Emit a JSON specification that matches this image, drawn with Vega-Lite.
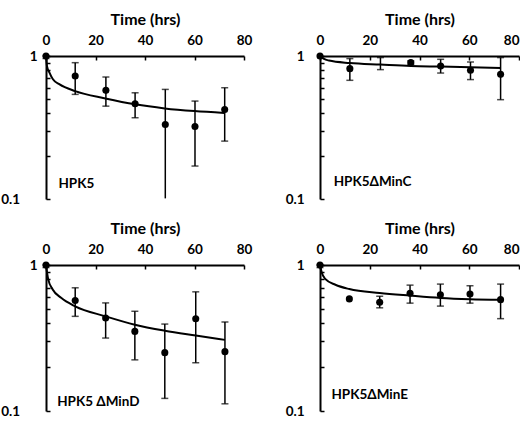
{
  "$schema": "https://vega.github.io/schema/vega-lite/v6.json",
  "background": "white",
  "padding": {"top": 11, "left": 0, "right": 0, "bottom": 0},
  "datasets": {
    "d": [
      {"panel": "A", "kind": "pt", "t": 0, "y": 1, "lo": 0.96, "hi": 1},
      {"panel": "A", "kind": "pt", "t": 11.8, "y": 0.724, "lo": 0.539, "hi": 0.898},
      {"panel": "A", "kind": "pt", "t": 24.2, "y": 0.575, "lo": 0.446, "hi": 0.713},
      {"panel": "A", "kind": "pt", "t": 36, "y": 0.463, "lo": 0.37, "hi": 0.553},
      {"panel": "A", "kind": "pt", "t": 48.2, "y": 0.332, "lo": 0.101, "hi": 0.584},
      {"panel": "A", "kind": "pt", "t": 60.2, "y": 0.321, "lo": 0.17, "hi": 0.484},
      {"panel": "A", "kind": "pt", "t": 72.2, "y": 0.423, "lo": 0.254, "hi": 0.6},
      {"panel": "A", "kind": "fit", "t": 0, "y": 1},
      {"panel": "A", "kind": "fit", "t": 0.4, "y": 0.85},
      {"panel": "A", "kind": "fit", "t": 1.4, "y": 0.765},
      {"panel": "A", "kind": "fit", "t": 2.8, "y": 0.687},
      {"panel": "A", "kind": "fit", "t": 5.5, "y": 0.633},
      {"panel": "A", "kind": "fit", "t": 11.8, "y": 0.568},
      {"panel": "A", "kind": "fit", "t": 24, "y": 0.505},
      {"panel": "A", "kind": "fit", "t": 36, "y": 0.459},
      {"panel": "A", "kind": "fit", "t": 48, "y": 0.43},
      {"panel": "A", "kind": "fit", "t": 60, "y": 0.412},
      {"panel": "A", "kind": "fit", "t": 72, "y": 0.4},

      {"panel": "B", "kind": "pt", "t": 0, "y": 1, "lo": null, "hi": null},
      {"panel": "B", "kind": "pt", "t": 12, "y": 0.816, "lo": 0.676, "hi": 0.959},
      {"panel": "B", "kind": "pt", "t": 24.3, "y": null, "lo": 0.803, "hi": 0.975},
      {"panel": "B", "kind": "pt", "t": 36.5, "y": 0.899, "lo": 0.875, "hi": 0.925},
      {"panel": "B", "kind": "pt", "t": 48.5, "y": 0.851, "lo": 0.76, "hi": 0.948},
      {"panel": "B", "kind": "pt", "t": 60.5, "y": 0.794, "lo": 0.684, "hi": 0.908},
      {"panel": "B", "kind": "pt", "t": 72.6, "y": 0.744, "lo": 0.495, "hi": 0.975},
      {"panel": "B", "kind": "fit", "t": 0, "y": 1},
      {"panel": "B", "kind": "fit", "t": 1.6, "y": 0.953},
      {"panel": "B", "kind": "fit", "t": 3.6, "y": 0.929},
      {"panel": "B", "kind": "fit", "t": 12, "y": 0.893},
      {"panel": "B", "kind": "fit", "t": 24.3, "y": 0.871},
      {"panel": "B", "kind": "fit", "t": 36.5, "y": 0.851},
      {"panel": "B", "kind": "fit", "t": 48.5, "y": 0.843},
      {"panel": "B", "kind": "fit", "t": 60.5, "y": 0.834},
      {"panel": "B", "kind": "fit", "t": 72.6, "y": 0.824},

      {"panel": "C", "kind": "pt", "t": 0, "y": 1, "lo": 0.96, "hi": 1},
      {"panel": "C", "kind": "pt", "t": 11.8, "y": 0.571, "lo": 0.445, "hi": 0.698},
      {"panel": "C", "kind": "pt", "t": 24.1, "y": 0.434, "lo": 0.316, "hi": 0.55},
      {"panel": "C", "kind": "pt", "t": 35.9, "y": 0.351, "lo": 0.224, "hi": 0.482},
      {"panel": "C", "kind": "pt", "t": 48, "y": 0.251, "lo": 0.122, "hi": 0.394},
      {"panel": "C", "kind": "pt", "t": 60.5, "y": 0.429, "lo": 0.214, "hi": 0.655},
      {"panel": "C", "kind": "pt", "t": 72.3, "y": 0.255, "lo": 0.112, "hi": 0.407},
      {"panel": "C", "kind": "fit", "t": 0, "y": 1},
      {"panel": "C", "kind": "fit", "t": 0.9, "y": 0.797},
      {"panel": "C", "kind": "fit", "t": 2.7, "y": 0.68},
      {"panel": "C", "kind": "fit", "t": 6.1, "y": 0.596},
      {"panel": "C", "kind": "fit", "t": 11.8, "y": 0.521},
      {"panel": "C", "kind": "fit", "t": 24.1, "y": 0.445},
      {"panel": "C", "kind": "fit", "t": 35.9, "y": 0.39},
      {"panel": "C", "kind": "fit", "t": 48, "y": 0.355},
      {"panel": "C", "kind": "fit", "t": 60.5, "y": 0.329},
      {"panel": "C", "kind": "fit", "t": 72.3, "y": 0.307},

      {"panel": "D", "kind": "pt", "t": 0, "y": 1, "lo": 0.96, "hi": 1},
      {"panel": "D", "kind": "pt", "t": 11.8, "y": 0.586, "lo": null, "hi": null},
      {"panel": "D", "kind": "pt", "t": 24, "y": 0.556, "lo": 0.509, "hi": 0.611},
      {"panel": "D", "kind": "pt", "t": 36.2, "y": 0.64, "lo": 0.548, "hi": 0.728},
      {"panel": "D", "kind": "pt", "t": 48.4, "y": 0.626, "lo": 0.523, "hi": 0.74},
      {"panel": "D", "kind": "pt", "t": 60.3, "y": 0.633, "lo": 0.548, "hi": 0.721},
      {"panel": "D", "kind": "pt", "t": 72.6, "y": 0.579, "lo": 0.429, "hi": 0.74},
      {"panel": "D", "kind": "fit", "t": 0, "y": 1},
      {"panel": "D", "kind": "fit", "t": 0.7, "y": 0.888},
      {"panel": "D", "kind": "fit", "t": 2.2, "y": 0.8},
      {"panel": "D", "kind": "fit", "t": 6.2, "y": 0.732},
      {"panel": "D", "kind": "fit", "t": 11.8, "y": 0.684},
      {"panel": "D", "kind": "fit", "t": 24, "y": 0.643},
      {"panel": "D", "kind": "fit", "t": 36.2, "y": 0.617},
      {"panel": "D", "kind": "fit", "t": 48.4, "y": 0.595},
      {"panel": "D", "kind": "fit", "t": 60.3, "y": 0.583},
      {"panel": "D", "kind": "fit", "t": 72.6, "y": 0.577}
    ]
  },
  "config": {
    "view": {"stroke": null, "fill": null},
    "axis": {
      "grid": false, "zindex": 2,
      "labelFont": "Lato", "labelFontWeight": "bold", "labelFontSize": 13.5, "labelColor": "#000",
      "titleFont": "Lato", "titleFontWeight": "bold", "titleFontSize": 16, "titleColor": "#000",
      "domainColor": "#000", "domainWidth": 2, "tickColor": "#000", "tickWidth": 1.5, "tickSize": 4,
      "labelFlush": false, "labelOverlap": false
    }
  },
  "concat": [
    {
      "width": 198, "height": 143,
      "data": {"name": "d"},
      "transform": [{"filter": "datum.panel == 'A'"}],
      "layer": [
        {"transform": [{"filter": "datum.kind == 'fit'"}],
         "mark": {"type": "line", "color": "#000", "strokeWidth": 2, "interpolate": "monotone"},
         "encoding": {
           "x": {"field": "t", "type": "quantitative", "scale": {"domain": [0, 80], "nice": false},
                 "axis": {"orient": "bottom", "offset": -143, "title": "Time (hrs)", "values": [0, 20, 40, 60, 80],
                          "labelBaseline": "alphabetic", "labelPadding": -15.5, "titleY": -31.5, "titleBaseline": "alphabetic"}},
           "y": {"field": "y", "type": "quantitative", "scale": {"type": "log", "domain": [0.1, 1], "nice": false},
                 "axis": {"orient": "right", "offset": -198, "title": null, "values": [0.1, 0.2, 0.3, 0.4, 0.5, 0.6, 0.7, 0.8, 0.9, 1],
                          "labelExpr": "datum.value == 1 ? '1' : (datum.value == 0.1 ? '0.1' : '')", "labelAlign": "right",
                          "labelPadding": {"condition": {"test": "datum.value == 0.1", "value": -30.5}, "value": -12.8}}}
         }},
        {"transform": [{"filter": "datum.kind == 'pt'"}],
         "mark": {"type": "rule", "color": "#000", "strokeWidth": 1.5},
         "encoding": {"x": {"field": "t", "type": "quantitative"}, "y": {"field": "lo", "type": "quantitative"}, "y2": {"field": "hi"}}},
        {"transform": [{"filter": "datum.kind == 'pt'"}],
         "mark": {"type": "tick", "orient": "horizontal", "color": "#000", "size": 7, "thickness": 1.5},
         "encoding": {"x": {"field": "t", "type": "quantitative"}, "y": {"field": "hi", "type": "quantitative"}}},
        {"transform": [{"filter": "datum.kind == 'pt' && datum.lo > 0.1015"}],
         "mark": {"type": "tick", "orient": "horizontal", "color": "#000", "size": 7, "thickness": 1.5},
         "encoding": {"x": {"field": "t", "type": "quantitative"}, "y": {"field": "lo", "type": "quantitative"}}},
        {"transform": [{"filter": "datum.kind == 'pt'"}],
         "mark": {"type": "point", "filled": true, "color": "#000", "size": 50, "opacity": 1},
         "encoding": {"x": {"field": "t", "type": "quantitative"}, "y": {"field": "y", "type": "quantitative"}}},
        {"data": {"values": [{}]},
         "mark": {"type": "text", "align": "left", "baseline": "middle", "font": "Lato", "fontWeight": "bold", "fontSize": 13.5, "color": "#000"},
         "encoding": {"x": {"datum": 5}, "y": {"datum": 0.127}, "text": {"value": "HPK5"}}}
      ]
    },
    {
      "width": 199, "height": 143,
      "data": {"name": "d"},
      "transform": [{"filter": "datum.panel == 'B'"}],
      "layer": [
        {"transform": [{"filter": "datum.kind == 'fit'"}],
         "mark": {"type": "line", "color": "#000", "strokeWidth": 2, "interpolate": "monotone"},
         "encoding": {
           "x": {"field": "t", "type": "quantitative", "scale": {"domain": [0, 80], "nice": false},
                 "axis": {"orient": "bottom", "offset": -143, "title": "Time (hrs)", "values": [0, 20, 40, 60, 80],
                          "labelBaseline": "alphabetic", "labelPadding": -15.5, "titleY": -31.5, "titleBaseline": "alphabetic",
                          "labelAlign": {"condition": {"test": "datum.value == 80", "value": "right"}, "value": "center"}}},
           "y": {"field": "y", "type": "quantitative", "scale": {"type": "log", "domain": [0.1, 1], "nice": false},
                 "axis": {"orient": "right", "offset": -199, "title": null, "values": [0.1, 0.2, 0.3, 0.4, 0.5, 0.6, 0.7, 0.8, 0.9, 1],
                          "labelExpr": "datum.value == 1 ? '1' : (datum.value == 0.1 ? '0.1' : '')", "labelAlign": "right",
                          "labelPadding": -20}}
         }},
        {"transform": [{"filter": "datum.kind == 'pt'"}],
         "mark": {"type": "rule", "color": "#000", "strokeWidth": 1.5},
         "encoding": {"x": {"field": "t", "type": "quantitative"}, "y": {"field": "lo", "type": "quantitative"}, "y2": {"field": "hi"}}},
        {"transform": [{"filter": "datum.kind == 'pt'"}],
         "mark": {"type": "tick", "orient": "horizontal", "color": "#000", "size": 7, "thickness": 1.5},
         "encoding": {"x": {"field": "t", "type": "quantitative"}, "y": {"field": "hi", "type": "quantitative"}}},
        {"transform": [{"filter": "datum.kind == 'pt'"}],
         "mark": {"type": "tick", "orient": "horizontal", "color": "#000", "size": 7, "thickness": 1.5},
         "encoding": {"x": {"field": "t", "type": "quantitative"}, "y": {"field": "lo", "type": "quantitative"}}},
        {"transform": [{"filter": "datum.kind == 'pt'"}],
         "mark": {"type": "point", "filled": true, "color": "#000", "size": 50, "opacity": 1},
         "encoding": {"x": {"field": "t", "type": "quantitative"}, "y": {"field": "y", "type": "quantitative"}}},
        {"data": {"values": [{}]},
         "mark": {"type": "text", "align": "left", "baseline": "middle", "font": "Lato", "fontWeight": "bold", "fontSize": 13.5, "color": "#000"},
         "encoding": {"x": {"datum": 5.5}, "y": {"datum": 0.131}, "text": {"value": "HPK5ΔMinC"}}}
      ]
    },
    {
      "width": 198, "height": 146,
      "data": {"name": "d"},
      "transform": [{"filter": "datum.panel == 'C'"}],
      "layer": [
        {"transform": [{"filter": "datum.kind == 'fit'"}],
         "mark": {"type": "line", "color": "#000", "strokeWidth": 2, "interpolate": "monotone"},
         "encoding": {
           "x": {"field": "t", "type": "quantitative", "scale": {"domain": [0, 80], "nice": false},
                 "axis": {"orient": "bottom", "offset": -146, "title": "Time (hrs)", "values": [0, 20, 40, 60, 80],
                          "labelBaseline": "alphabetic", "labelPadding": -15.5, "titleY": -31.5, "titleBaseline": "alphabetic"}},
           "y": {"field": "y", "type": "quantitative", "scale": {"type": "log", "domain": [0.1, 1], "nice": false},
                 "axis": {"orient": "right", "offset": -198, "title": null, "values": [0.1, 0.2, 0.3, 0.4, 0.5, 0.6, 0.7, 0.8, 0.9, 1],
                          "labelExpr": "datum.value == 1 ? '1' : (datum.value == 0.1 ? '0.1' : '')", "labelAlign": "right",
                          "labelPadding": {"condition": {"test": "datum.value == 0.1", "value": -30.5}, "value": -12.8}}}
         }},
        {"transform": [{"filter": "datum.kind == 'pt'"}],
         "mark": {"type": "rule", "color": "#000", "strokeWidth": 1.5},
         "encoding": {"x": {"field": "t", "type": "quantitative"}, "y": {"field": "lo", "type": "quantitative"}, "y2": {"field": "hi"}}},
        {"transform": [{"filter": "datum.kind == 'pt'"}],
         "mark": {"type": "tick", "orient": "horizontal", "color": "#000", "size": 7, "thickness": 1.5},
         "encoding": {"x": {"field": "t", "type": "quantitative"}, "y": {"field": "hi", "type": "quantitative"}}},
        {"transform": [{"filter": "datum.kind == 'pt'"}],
         "mark": {"type": "tick", "orient": "horizontal", "color": "#000", "size": 7, "thickness": 1.5},
         "encoding": {"x": {"field": "t", "type": "quantitative"}, "y": {"field": "lo", "type": "quantitative"}}},
        {"transform": [{"filter": "datum.kind == 'pt'"}],
         "mark": {"type": "point", "filled": true, "color": "#000", "size": 50, "opacity": 1},
         "encoding": {"x": {"field": "t", "type": "quantitative"}, "y": {"field": "y", "type": "quantitative"}}},
        {"data": {"values": [{}]},
         "mark": {"type": "text", "align": "left", "baseline": "middle", "font": "Lato", "fontWeight": "bold", "fontSize": 13.5, "color": "#000"},
         "encoding": {"x": {"datum": 4.5}, "y": {"datum": 0.115}, "text": {"value": "HPK5 ΔMinD"}}}
      ]
    },
    {
      "width": 199, "height": 146,
      "data": {"name": "d"},
      "transform": [{"filter": "datum.panel == 'D'"}],
      "layer": [
        {"transform": [{"filter": "datum.kind == 'fit'"}],
         "mark": {"type": "line", "color": "#000", "strokeWidth": 2, "interpolate": "monotone"},
         "encoding": {
           "x": {"field": "t", "type": "quantitative", "scale": {"domain": [0, 80], "nice": false},
                 "axis": {"orient": "bottom", "offset": -146, "title": "Time (hrs)", "values": [0, 20, 40, 60, 80],
                          "labelBaseline": "alphabetic", "labelPadding": -15.5, "titleY": -31.5, "titleBaseline": "alphabetic",
                          "labelAlign": {"condition": {"test": "datum.value == 80", "value": "right"}, "value": "center"}}},
           "y": {"field": "y", "type": "quantitative", "scale": {"type": "log", "domain": [0.1, 1], "nice": false},
                 "axis": {"orient": "right", "offset": -199, "title": null, "values": [0.1, 0.2, 0.3, 0.4, 0.5, 0.6, 0.7, 0.8, 0.9, 1],
                          "labelExpr": "datum.value == 1 ? '1' : (datum.value == 0.1 ? '0.1' : '')", "labelAlign": "right",
                          "labelPadding": -20}}
         }},
        {"transform": [{"filter": "datum.kind == 'pt'"}],
         "mark": {"type": "rule", "color": "#000", "strokeWidth": 1.5},
         "encoding": {"x": {"field": "t", "type": "quantitative"}, "y": {"field": "lo", "type": "quantitative"}, "y2": {"field": "hi"}}},
        {"transform": [{"filter": "datum.kind == 'pt'"}],
         "mark": {"type": "tick", "orient": "horizontal", "color": "#000", "size": 7, "thickness": 1.5},
         "encoding": {"x": {"field": "t", "type": "quantitative"}, "y": {"field": "hi", "type": "quantitative"}}},
        {"transform": [{"filter": "datum.kind == 'pt'"}],
         "mark": {"type": "tick", "orient": "horizontal", "color": "#000", "size": 7, "thickness": 1.5},
         "encoding": {"x": {"field": "t", "type": "quantitative"}, "y": {"field": "lo", "type": "quantitative"}}},
        {"transform": [{"filter": "datum.kind == 'pt'"}],
         "mark": {"type": "point", "filled": true, "color": "#000", "size": 50, "opacity": 1},
         "encoding": {"x": {"field": "t", "type": "quantitative"}, "y": {"field": "y", "type": "quantitative"}}},
        {"data": {"values": [{}]},
         "mark": {"type": "text", "align": "left", "baseline": "middle", "font": "Lato", "fontWeight": "bold", "fontSize": 13.5, "color": "#000"},
         "encoding": {"x": {"datum": 4.6}, "y": {"datum": 0.128}, "text": {"value": "HPK5ΔMinE"}}}
      ]
    }
  ],
  "columns": 2,
  "spacing": {"row": 66, "column": 76},
  "bounds": "flush"
}
